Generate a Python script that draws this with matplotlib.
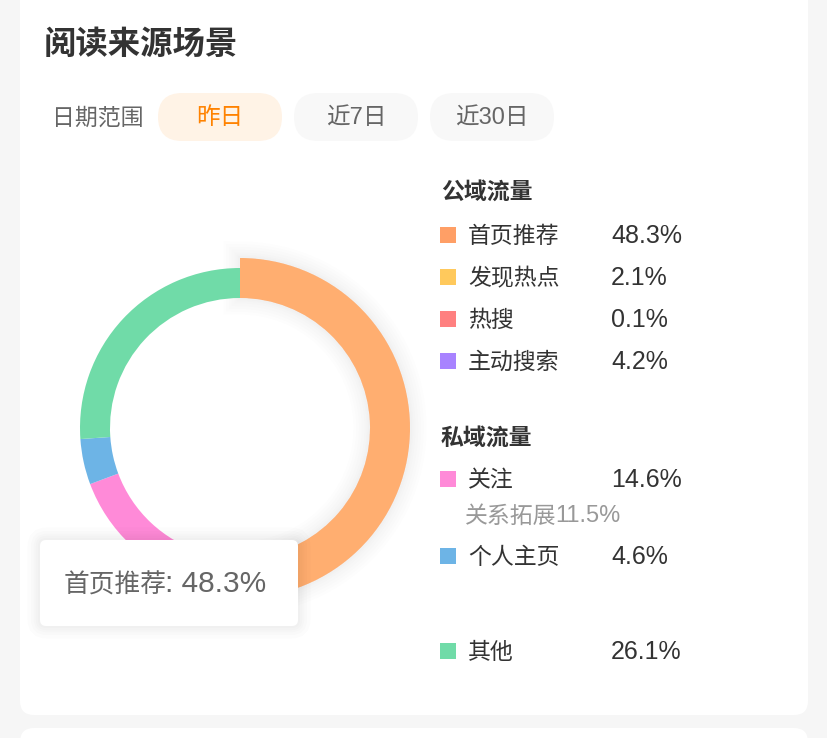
import matplotlib
matplotlib.use("Agg")
import matplotlib.pyplot as plt
from matplotlib.patches import FancyBboxPatch, Rectangle
import matplotlib.patheffects as pe

plt.rcParams['font.family'] = ['Noto Sans CJK SC', 'DejaVu Sans']
MIX = ['Liberation Sans', 'Noto Sans CJK SC']  # 拉丁字符用类 Helvetica 字体

# 数据
title = '阅读来源场景'
date_label = '日期范围'
date_options = ['昨日', '近7日', '近30日']
groups = ['公域流量', '私域流量']
names = ['首页推荐', '发现热点', '热搜', '主动搜索', '关注', '个人主页', '其他']
values = [48.3, 2.1, 0.1, 4.2, 14.6, 4.6, 26.1]
colors = ['#FFAE70', '#FFC95C', '#FF8080', '#A883FF', '#FF8AD8', '#6DB4E6', '#70DBA8']
legend_colors = ['#FF9F66', '#FFC95C', '#FF8080', '#A883FF', '#FF8AD8', '#6DB4E6', '#70DBA8']
sub_note = '关系拓展11.5%'
tip_index = 0

W, H = 828, 738
fig = plt.figure(figsize=(W / 100, H / 100), dpi=100)
fig.patch.set_facecolor('#F6F6F6')

# 背景层
bg = fig.add_axes([0, 0, 1, 1], zorder=0)
bg.set_xlim(0, W)
bg.set_ylim(H, 0)
bg.axis('off')
bg.add_patch(FancyBboxPatch((20, -20), 788, 735, boxstyle='round,pad=0,rounding_size=14',
                            fc='white', ec='none'))
bg.add_patch(FancyBboxPatch((20, 728), 788, 40, boxstyle='round,pad=0,rounding_size=14',
                            fc='white', ec='none'))

bg.text(44, 44, title, fontsize=23.3, fontweight='bold', color='#333333', va='center', ha='left')
bg.text(52, 118, date_label, fontsize=16.5, color='#666666', va='center', ha='left')
pill_x = [158, 294, 430]
for i, opt in enumerate(date_options):
    sel = i == 0
    bg.add_patch(FancyBboxPatch((pill_x[i], 93), 124, 48, boxstyle='round,pad=0,rounding_size=24',
                                fc='#FFF3E6' if sel else '#F8F8F8', ec='none'))
    bg.text(pill_x[i] + 62, 118, opt, fontsize=17, color='#FF8200' if sel else '#666666',
            va='center', ha='center', family=MIX)

# 环形图
cx, cy, R = 240, 428, 185
pax = fig.add_axes([(cx - R) / W, (H - cy - R) / H, 2 * R / W, 2 * R / H], zorder=1)
wedges, _ = pax.pie(values, colors=colors, radius=160, startangle=90, counterclock=False,
                    wedgeprops=dict(width=30, linewidth=0))
wedges[tip_index].set_radius(170)
wedges[tip_index].set_width(40)
wedges[tip_index].set_path_effects(
    [pe.Stroke(linewidth=lw, foreground='black', alpha=0.008) for lw in (24, 20, 16, 12, 8, 5, 3)]
    + [pe.Normal()])
pax.set_xlim(-R, R)
pax.set_ylim(-R, R)
pax.axis('off')

# 图例与提示框
top = fig.add_axes([0, 0, 1, 1], zorder=2)
top.patch.set_alpha(0)
top.set_xlim(0, W)
top.set_ylim(H, 0)
top.axis('off')

row_y = [235, 277, 319, 361, 479, 556, 651]
top.text(441, 192, groups[0], fontsize=16.5, fontweight='bold', color='#333333', va='center')
top.text(441, 438, groups[1], fontsize=16.5, fontweight='bold', color='#333333', va='center')
for name, v, c, y in zip(names, values, legend_colors, row_y):
    top.add_patch(Rectangle((440, y - 8), 16, 16, fc=c, ec='none'))
    top.text(468, y + 1.5, name, fontsize=16.5, color='#333333', va='center')
    top.text(611, y + 1, f'{v}%', fontsize=18, color='#333333', va='center', family=MIX)
top.text(465, 516.5, sub_note[:4], fontsize=16.5, color='#999999', va='center')
top.text(555, 516, sub_note[4:], fontsize=17, color='#999999', va='center', family=MIX)

shadow = [pe.Stroke(linewidth=lw, foreground='black', alpha=0.012) for lw in (18, 13, 9, 6, 3)]
tip = FancyBboxPatch((40, 540), 258, 86, boxstyle='round,pad=0,rounding_size=6',
                     fc='white', ec='none')
tip.set_path_effects(shadow + [pe.Normal()])
top.add_patch(tip)
top.text(64, 585.5, names[tip_index], fontsize=18.5, color='#666666', va='center', ha='left')
top.text(165, 584, f': {values[tip_index]}%', fontsize=21.5, color='#666666',
         va='center', ha='left', family=MIX)

fig.savefig('out.png', dpi=100, facecolor=fig.get_facecolor())
